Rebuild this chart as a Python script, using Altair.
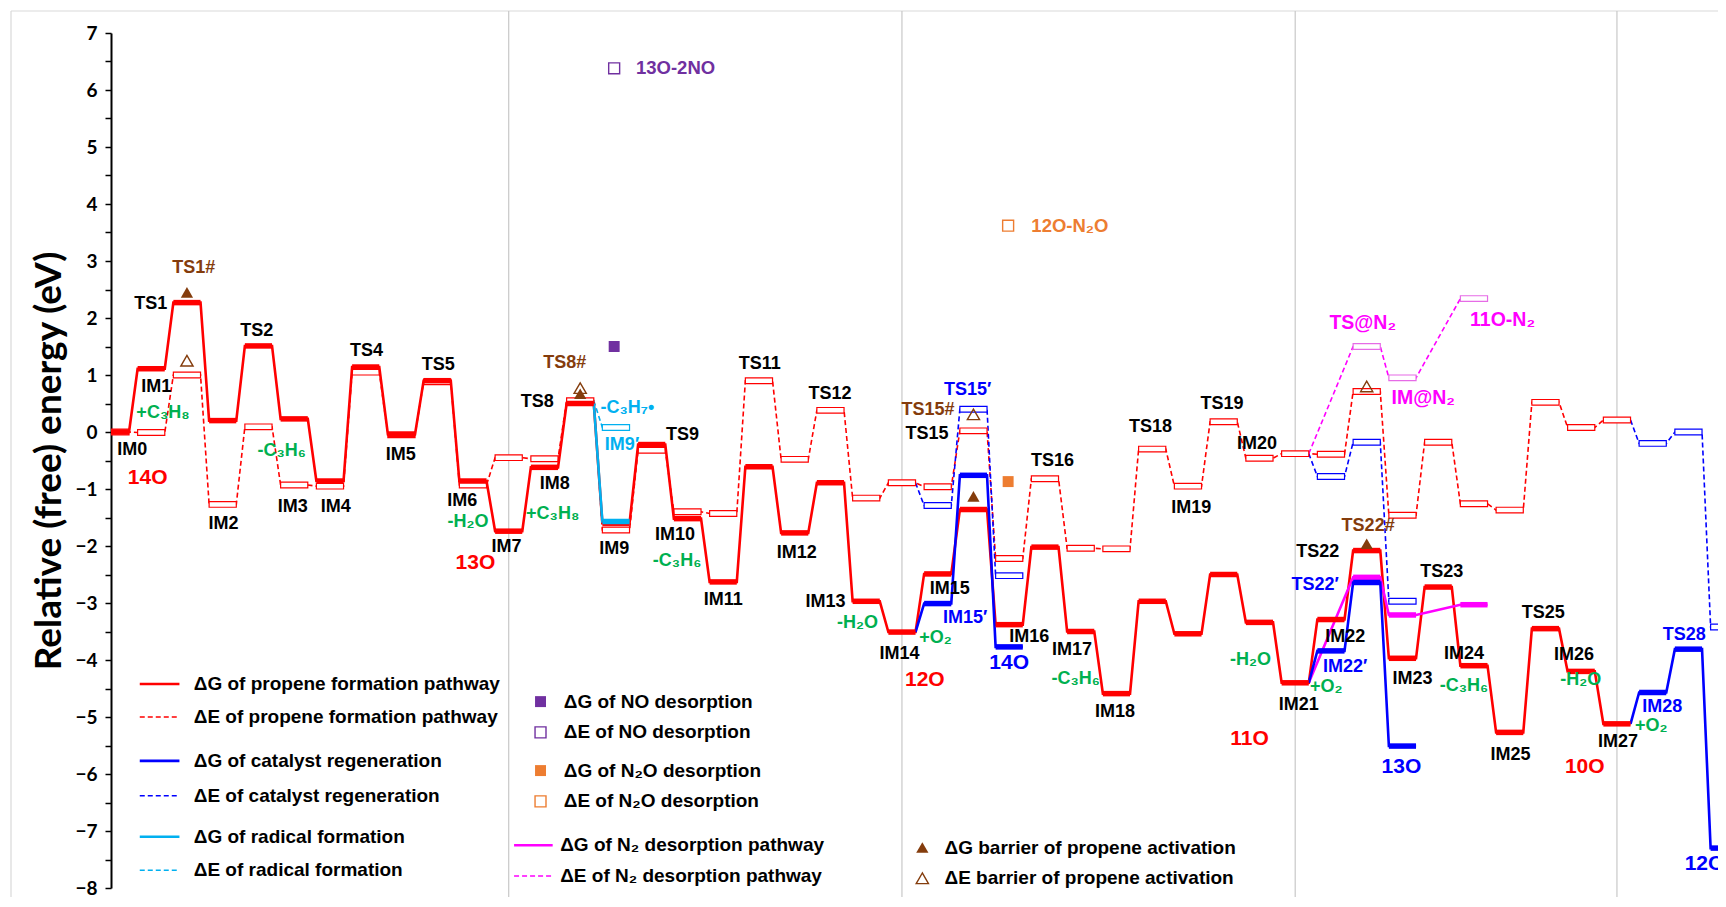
import altair as alt
import pandas as pd

# ---------------- data (eV) ----------------
red_states = ["IM0", "IM1", "TS1", "IM2", "TS2", "IM3", "IM4", "TS4", "IM5", "TS5", "IM6",
              "IM7", "IM8", "TS8", "IM9", "TS9", "IM10", "IM11", "TS11", "IM12", "TS12",
              "IM13", "IM14", "IM15", "TS15", "IM16", "TS16", "IM17", "IM18", "TS18",
              "IM19", "TS19", "IM20", "IM21", "IM22", "TS22", "IM23", "TS23", "IM24",
              "IM25", "TS25", "IM26", "IM27"]
red_G = [0.0, 1.11, 2.27, 0.2, 1.51, 0.23, -0.86, 1.14, -0.04, 0.9, -0.86,
         -1.74, -0.62, 0.5, -1.6, -0.22, -1.52, -2.63, -0.61, -1.77, -0.89,
         -2.97, -3.51, -2.49, -1.36, -3.38, -2.02, -3.5, -4.59, -2.97,
         -3.54, -2.5, -3.34, -4.4, -3.29, -2.08, -3.97, -2.72, -4.1,
         -5.27, -3.45, -4.2, -5.12]
red_E = [0.0, -0.01, 1.0, -1.27, 0.09, -0.93, -0.95, 1.05, -0.05, 0.88, -0.93,
         -0.45, -0.47, 0.55, -1.72, -0.32, -1.4, -1.43, 0.9, -0.48, 0.38,
         -1.16, -0.89, -0.96, 0.02, -2.22, -0.82, -2.04, -2.05, -0.3,
         -0.95, 0.18, -0.46, -0.38, -0.39, 0.71, -1.46, -0.18, -1.26,
         -1.37, 0.52, 0.08, 0.21]
red_slots = list(range(len(red_states)))

regen_slots = [[22, 23, 24, 25], [33, 34, 35, 36], [42, 43, 44, 45]]
regen_G = [[-3.51, -3.01, -0.76, -3.77], [-4.4, -3.84, -2.64, -5.51], [-5.12, -4.57, -3.81, -7.3]]
regen_E = [[-0.89, -1.29, 0.4, -2.52], [-0.38, -0.78, -0.18, -2.97], [0.21, -0.2, 0.0, -3.42]]

radical_slots = [13, 14]
radical_G = [0.5, -1.57]
radical_E = [0.55, 0.08]

n2_slots = [33, 35, 36, 38]
n2_G = [-4.4, -2.55, -3.21, -3.03]
n2_E = [-0.38, 1.5, 0.95, 2.34]

barrier_slots = [2, 13, 24, 35]
barrier_G = [2.45, 0.67, -1.13, -1.96]
barrier_E = [1.25, 0.77, 0.31, 0.8]

no_slot, no_G, no_E = 13.95, 1.5, 6.38
n2o_slot, n2o_G, n2o_E = 24.97, -0.87, 3.62

separator_slots = [11, 22, 33, 42]

state_labels = [
    ("IM0", 0.47, -0.31), ("IM1", 1.14, 0.79), ("TS1", 0.99, 2.25), ("IM2", 3.02, -1.62),
    ("TS2", 3.95, 1.77), ("IM3", 4.96, -1.31), ("IM4", 6.16, -1.31), ("TS4", 7.02, 1.42),
    ("IM5", 7.98, -0.4), ("TS5", 9.03, 1.17), ("IM6", 9.7, -1.21), ("IM7", 10.94, -2.02),
    ("IM8", 12.29, -0.92), ("TS8", 11.8, 0.52), ("IM9", 13.95, -2.06), ("TS9", 15.86, -0.06),
    ("IM10", 15.65, -1.81), ("IM11", 17.0, -2.94), ("TS11", 18.02, 1.19), ("IM12", 19.06, -2.12),
    ("TS12", 19.99, 0.67), ("IM13", 19.86, -2.98), ("IM14", 21.93, -3.9), ("IM15", 23.34, -2.75),
    ("TS15", 22.7, -0.04), ("IM16", 25.56, -3.6), ("TS16", 26.21, -0.5), ("IM17", 26.76, -3.83),
    ("IM18", 27.96, -4.92), ("TS18", 28.95, 0.08), ("IM19", 30.09, -1.33), ("TS19", 30.95, 0.5),
    ("IM20", 31.93, -0.21), ("IM21", 33.1, -4.79), ("IM22", 34.4, -3.6), ("TS22", 33.63, -2.1),
    ("IM23", 36.28, -4.33), ("TS23", 37.1, -2.46), ("IM24", 37.72, -3.9), ("IM25", 39.02, -5.67),
    ("TS25", 39.94, -3.17), ("IM26", 40.8, -3.92), ("IM27", 42.03, -5.44),
]
green_labels = [
    ("+C₃H₈", 1.33, 0.33), ("-C₃H₆", 4.65, -0.33), ("-H₂O", 9.86, -1.58), ("+C₃H₈", 12.23, -1.44),
    ("-C₃H₆", 15.71, -2.27), ("-H₂O", 20.76, -3.35), ("+O₂", 22.94, -3.62), ("-C₃H₆", 26.86, -4.33),
    ("-H₂O", 31.75, -4.0), ("+O₂", 33.87, -4.48), ("-C₃H₆", 37.72, -4.46), ("-H₂O", 40.99, -4.35),
    ("+O₂", 42.96, -5.15),
]
blue_labels = [("IM15′", 23.77, -3.27), ("TS15′", 23.84, 0.73), ("TS22′", 33.56, -2.69),
               ("IM22′", 34.4, -4.12), ("IM28", 43.27, -4.83), ("TS28", 43.88, -3.56)]
cyan_labels = [("-C₃H₇•", 14.32, 0.42), ("IM9′", 14.17, -0.23)]
brown_labels = [("TS1#", 2.19, 2.87), ("TS8#", 12.57, 1.21), ("TS15#", 22.73, 0.38), ("TS22#", 35.04, -1.65)]
magenta_labels = [("TS@N₂", 34.89, 1.92), ("IM@N₂", 36.58, 0.6), ("11O-N₂", 38.8, 1.96)]
red_species = [("14O", 0.9, -0.81), ("13O", 10.07, -2.29), ("12O", 22.64, -4.35),
               ("11O", 31.72, -5.38), ("10O", 41.1, -5.87)]
blue_species = [("14O", 25.0, -4.06), ("13O", 35.97, -5.87), ("12O", 44.45, -7.58)]
desorb_labels = [("13O-2NO", 14.56, 6.38, "purple"), ("12O-N₂O", 25.62, 3.62, "orange")]

legend_lines = [
    ("ΔG of propene formation pathway", "red", "G", 0.68, 1.79, -4.42),
    ("ΔE of propene formation pathway", "red", "E", 0.68, 1.79, -5.0),
    ("ΔG of catalyst regeneration", "blue", "G", 0.68, 1.79, -5.77),
    ("ΔE of catalyst regeneration", "blue", "E", 0.68, 1.79, -6.38),
    ("ΔG of radical formation", "cyan", "G", 0.68, 1.79, -7.1),
    ("ΔE of radical formation", "cyan", "E", 0.68, 1.79, -7.69),
    ("ΔG of N₂ desorption pathway", "magenta", "G", 11.15, 12.23, -7.25),
    ("ΔE of N₂ desorption pathway", "magenta", "E", 11.15, 12.23, -7.79),
]
legend_marks = [
    ("ΔG of NO desorption", "purple", "square", True, 11.89, -4.73),
    ("ΔE of NO desorption", "purple", "square", False, 11.89, -5.27),
    ("ΔG of N₂O desorption", "orange", "square", True, 11.89, -5.94),
    ("ΔE of N₂O desorption", "orange", "square", False, 11.89, -6.48),
    ("ΔG barrier of propene activation", "brown", "triangle-up", True, 22.57, -7.29),
    ("ΔE barrier of propene activation", "brown", "triangle-up", False, 22.57, -7.83),
]

# ---------------- geometry / styles ----------------
W, H = 1607, 855
SLOT_PX = 35.75
X0 = -0.1245
X1 = X0 + W / SLOT_PX
HW = 0.38      # half width of an energy level (slots)
EH = 0.05      # half height of hollow ΔE bars (eV)
FONT = "Liberation Sans"

COLORS = {"red": "#FF0000", "blue": "#0000FF", "cyan": "#00B0F0", "magenta": "#FF00FF",
          "black": "#000000", "green": "#00B050", "brown": "#843C0C", "purple": "#7030A0",
          "orange": "#ED7D31", "lightmag": "#E66BE6"}
cdom = list(COLORS.keys())
crng = [COLORS[k] for k in cdom]
cscale = alt.Scale(domain=cdom, range=crng)

xscale = alt.Scale(domain=[X0, X1], nice=False, zero=False)
yscale = alt.Scale(domain=[-8, 7], nice=False, zero=False)
yaxis = alt.Axis(
    values=[-8 + 0.5 * i for i in range(31)], format=".0f",
    labelExpr="datum.value % 1 === 0 ? datum.label : ''",
    grid=False, domainColor="black", domainWidth=2, tickColor="black", tickWidth=1.5,
    tickSize=6, labelPadding=8, labelFont="Lato", labelFontWeight="bold", labelFontSize=19,
    labelColor="black", title="Relative (free) energy (eV)", titleFont="Lato",
    titleFontWeight="bold", titleFontSize=37, titleColor="black", titlePadding=6,
)


def X(f):
    return alt.X(f, type="quantitative", scale=xscale, axis=None)


def Y(f):
    return alt.Y(f, type="quantitative", scale=yscale, axis=yaxis)


def C(f="kind"):
    return alt.Color(f, type="nominal", scale=cscale, legend=None)


def S(f="kind"):
    return alt.Stroke(f, type="nominal", scale=cscale, legend=None)


# ---------------- build tables ----------------
paths = [("red", "red", red_slots, red_G, red_E, False),
         ("cyan", "cyan", radical_slots, radical_G, radical_E, True),
         ("mag", "magenta", n2_slots, n2_G, n2_E, True)]
for i, (sl, g, e) in enumerate(zip(regen_slots, regen_G, regen_E)):
    paths.append((f"blue{i}", "blue", sl, g, e, True))

line_rows, lev_rows, ebar_rows = [], [], []
for name, kind, slots, gv, ev, skip in paths:
    for tag, vals in (("G", gv), ("E", ev)):
        o = 0
        for j, (s, v) in enumerate(zip(slots, vals)):
            if not (skip and j == 0):
                line_rows.append(dict(path=name + tag, kind=kind, t=tag, x=s - HW, v=v, o=o))
                o += 1
                if tag == "G":
                    lev_rows.append(dict(kind=kind, x1=s - HW, x2=s + HW, v=v))
                else:
                    ek = "lightmag" if kind == "magenta" else kind
                    ebar_rows.append(dict(kind=ek, x1=s - HW, x2=s + HW, v1=v - EH, v2=v + EH))
            line_rows.append(dict(path=name + tag, kind=kind, t=tag, x=s + HW, v=v, o=o))
            o += 1

lines = pd.DataFrame(line_rows)
levels = pd.DataFrame(lev_rows)
ebars = pd.DataFrame(ebar_rows)

markers = pd.DataFrame(
    [dict(x=s, v=v, kind="brown", shape="triangle-up", filled=True) for s, v in zip(barrier_slots, barrier_G)]
    + [dict(x=s, v=v, kind="brown", shape="triangle-up", filled=False) for s, v in zip(barrier_slots, barrier_E)]
    + [dict(x=no_slot, v=no_G, kind="purple", shape="square", filled=True),
       dict(x=no_slot, v=no_E, kind="purple", shape="square", filled=False),
       dict(x=n2o_slot, v=n2o_G, kind="orange", shape="square", filled=True),
       dict(x=n2o_slot, v=n2o_E, kind="orange", shape="square", filled=False)]
    + [dict(x=m[4], v=m[5], kind=m[1], shape=m[2], filled=m[3]) for m in legend_marks]
)

small_text = pd.DataFrame(
    [dict(t=a, x=b, v=c, kind="black") for a, b, c in state_labels]
    + [dict(t=a, x=b, v=c, kind="green") for a, b, c in green_labels]
    + [dict(t=a, x=b, v=c, kind="blue") for a, b, c in blue_labels]
    + [dict(t=a, x=b, v=c, kind="cyan") for a, b, c in cyan_labels]
    + [dict(t=a, x=b, v=c, kind="brown") for a, b, c in brown_labels]
)
mag_text = pd.DataFrame([dict(t=a, x=b, v=c, kind="magenta") for a, b, c in magenta_labels])
big_text = pd.DataFrame(
    [dict(t=a, x=b, v=c, kind="red") for a, b, c in red_species]
    + [dict(t=a, x=b, v=c, kind="blue") for a, b, c in blue_species]
)
left_text = pd.DataFrame([dict(t=a, x=b, v=c, kind=k) for a, b, c, k in desorb_labels])

leg_lines = pd.DataFrame([dict(t=l[0], kind=l[1], style=l[2], x1=l[3], x2=l[4], v=l[5]) for l in legend_lines])
leg_text = pd.DataFrame(
    [dict(t=l[0], x=l[4] + 0.4 if l[3] < 5 else l[4] + 0.21, v=l[5]) for l in legend_lines]
    + [dict(t=m[0], x=m[4] + 0.65 if m[4] < 20 else m[4] + 0.62, v=m[5]) for m in legend_marks]
)

# ---------------- layers ----------------
dummy = pd.DataFrame({"a": [0]})
frame = alt.Chart(dummy).mark_rule(color="#D9D9D9", strokeWidth=1.2, clip=False).encode(
    x=alt.value(-100), x2=alt.value(W + 10), y=alt.value(-22))
frame_l = alt.Chart(dummy).mark_rule(color="#D9D9D9", strokeWidth=1.2, clip=False).encode(
    x=alt.value(-100), y=alt.value(-22), y2=alt.value(H + 20))
seps = alt.Chart(pd.DataFrame({"x": separator_slots})).mark_rule(
    color="#C8C8C8", strokeWidth=1.2, clip=False).encode(
    x=X("x"), y=alt.value(-22), y2=alt.value(H + 20))

e_lines = alt.Chart(lines[lines.t == "E"]).mark_line(strokeWidth=1.6, strokeDash=[5, 3], clip=True).encode(
    x=X("x"), y=Y("v"), order="o:Q", detail="path:N", color=C())
e_bars = alt.Chart(ebars).mark_rect(fill="white", strokeWidth=1.2, clip=True).encode(
    x=X("x1"), x2="x2", y=Y("v1"), y2="v2", stroke=S())
g_lines = alt.Chart(lines[lines.t == "G"]).mark_line(strokeWidth=2.6, clip=True).encode(
    x=X("x"), y=Y("v"), order="o:Q", detail="path:N", color=C())
g_levels = alt.Chart(levels).mark_rule(strokeWidth=5.5, clip=True).encode(
    x=X("x1"), x2="x2", y=Y("v"), color=C())

mk_layers = []
for shape in ["square", "triangle-up"]:
    for filled in [True, False]:
        sub = markers[(markers["shape"] == shape) & (markers["filled"] == filled)]
        size = 120 if shape == "square" else 150
        if filled:
            mk = alt.Chart(sub).mark_point(shape=shape, filled=True, size=size, opacity=1).encode(
                x=X("x"), y=Y("v"), fill=alt.Fill("kind:N", scale=cscale, legend=None))
        else:
            mk = alt.Chart(sub).mark_point(shape=shape, filled=False, size=size, strokeWidth=1.4,
                                           opacity=1).encode(x=X("x"), y=Y("v"), stroke=S())
        mk_layers.append(mk)

leg_solid = alt.Chart(leg_lines[leg_lines["style"] == "G"]).mark_rule(strokeWidth=2.6).encode(
    x=X("x1"), x2="x2", y=Y("v"), color=C())
leg_dash = alt.Chart(leg_lines[leg_lines["style"] == "E"]).mark_rule(strokeWidth=1.5, strokeDash=[5, 3]).encode(
    x=X("x1"), x2="x2", y=Y("v"), color=C())

txt_small = alt.Chart(small_text).mark_text(font=FONT, fontWeight="bold", fontSize=18,
                                            baseline="middle", align="center").encode(
    x=X("x"), y=Y("v"), text="t:N", color=C())
txt_mag = alt.Chart(mag_text).mark_text(font=FONT, fontWeight="bold", fontSize=19.5,
                                        baseline="middle", align="center").encode(
    x=X("x"), y=Y("v"), text="t:N", color=C())
txt_big = alt.Chart(big_text).mark_text(font=FONT, fontWeight="bold", fontSize=21,
                                        baseline="middle", align="center").encode(
    x=X("x"), y=Y("v"), text="t:N", color=C())
txt_left = alt.Chart(left_text).mark_text(font=FONT, fontWeight="bold", fontSize=18.5,
                                          baseline="middle", align="left").encode(
    x=X("x"), y=Y("v"), text="t:N", color=C())
txt_leg = alt.Chart(leg_text).mark_text(font=FONT, fontWeight="bold", fontSize=19,
                                        baseline="middle", align="left", color="black").encode(
    x=X("x"), y=Y("v"), text="t:N")

chart = alt.layer(
    frame, frame_l, seps, e_lines, e_bars, g_lines, g_levels, *mk_layers,
    leg_solid, leg_dash, txt_small, txt_mag, txt_big, txt_left, txt_leg,
).properties(
    width=W, height=H, autosize=alt.AutoSizeParams(type="none"),
    padding={"left": 103, "top": 25, "right": 0, "bottom": 9},
    background="white",
).configure_view(stroke=None)

chart.save("out.html", embed_options={"renderer": "svg", "actions": False})
